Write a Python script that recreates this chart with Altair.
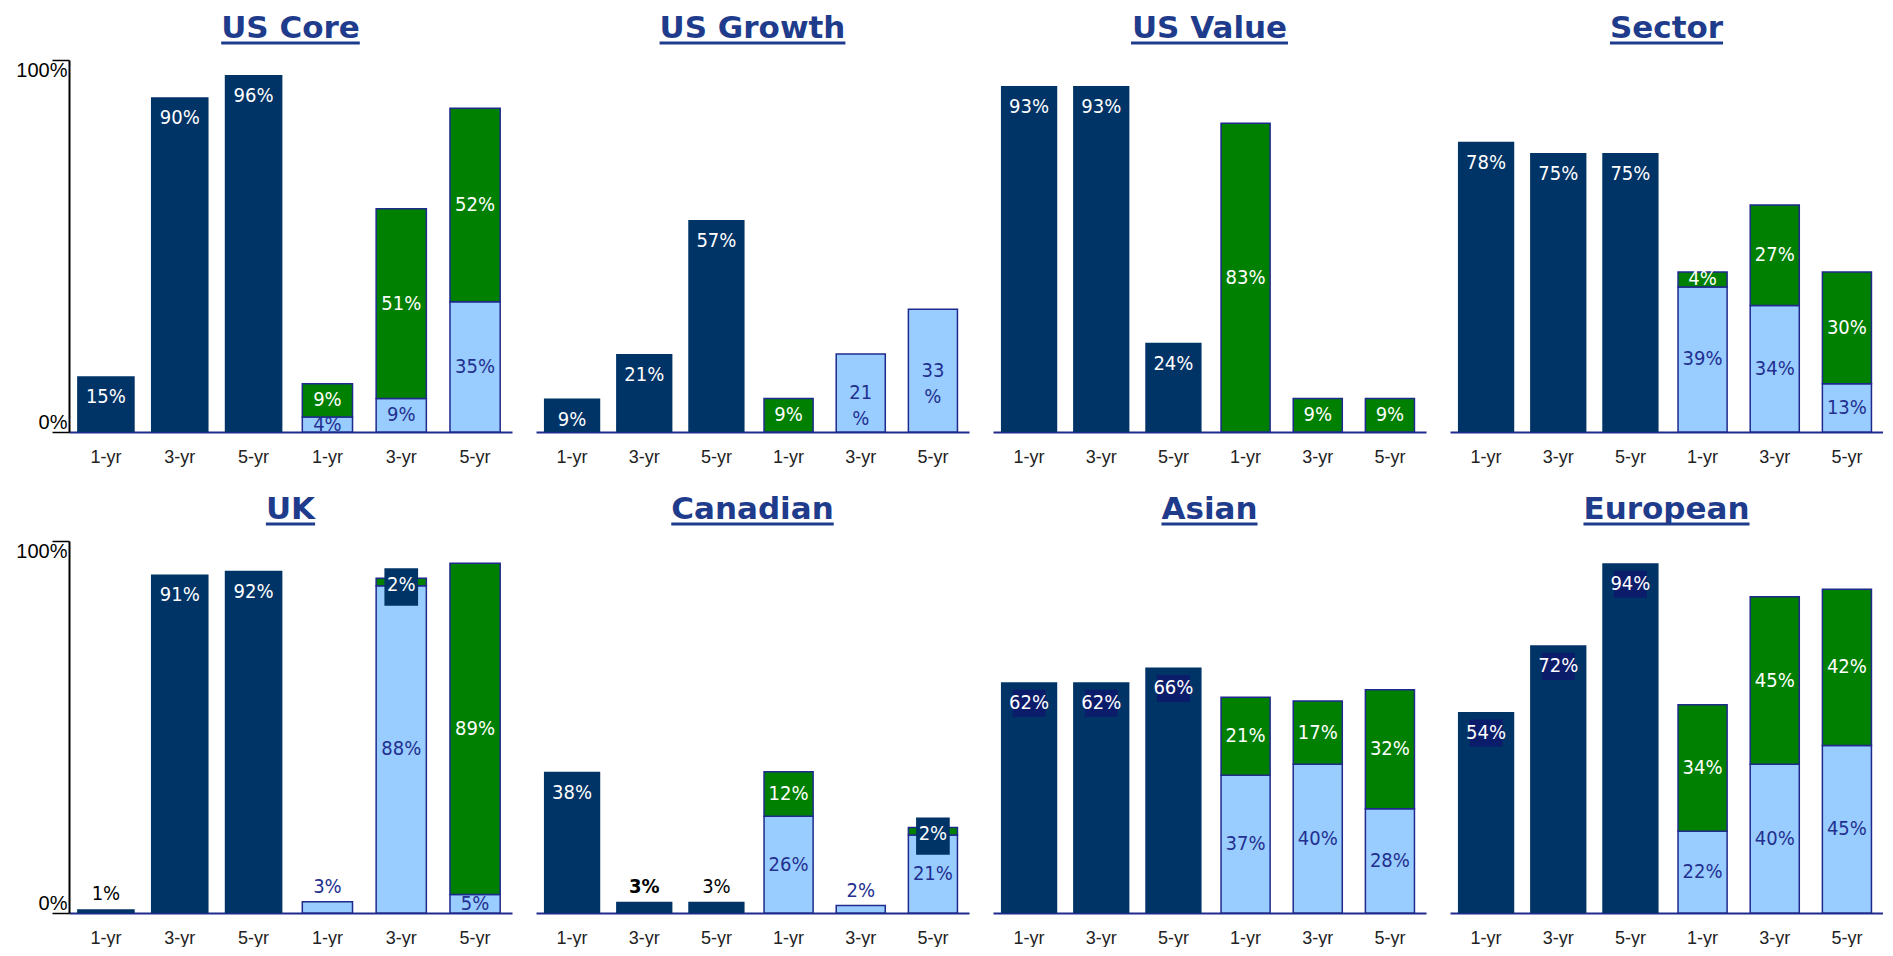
import altair as alt
import pandas as pd

# ---------------- data ----------------
PANELS = ["US Core", "US Growth", "US Value", "Sector",
          "UK", "Canadian", "Asian", "European"]
PERIODS = ["1", "3", "5"]

NAVY_VALUES = [[15, 90, 96], [9, 21, 57], [93, 93, 24], [78, 75, 75],
               [1, 91, 92], [38, 3, 3], [62, 62, 66], [54, 72, 94]]
LIGHT_VALUES = [[4, 9, 35], [0, 21, 33], [0, 0, 0], [39, 34, 13],
                [3, 88, 5], [26, 2, 21], [37, 40, 28], [22, 40, 45]]
GREEN_VALUES = [[9, 51, 52], [9, 0, 0], [83, 9, 9], [4, 27, 30],
                [0, 2, 89], [12, 0, 2], [21, 17, 32], [34, 45, 42]]

WRAPPED_LABEL_PANELS = ["US Growth"]
BOXED_LABEL_PANELS = ["Asian", "European"]
BOLD_LABELS = [("Canadian", "L3")]

# ---------------- style ----------------
NAVY = "#003366"
LIGHT = "#99CCFF"
GREEN = "#008000"
EDGE = "#1F2A8C"
TITLE_C = "#1F3C8C"
LIGHT_TXT = "#22308F"
LABEL_BOX = "#0B1C6B"
LABEL_FONT = "Liberation Sans Narrow, DejaVu Sans Condensed, Liberation Sans, sans-serif"
AXIS_FONT = "Liberation Sans"
TITLE_FONT = "DejaVu Sans"
TITLE_SIZE = 31

BOLD_W = {" ": 0.348, "A": 0.774, "C": 0.734, "E": 0.683, "G": 0.821, "K": 0.775,
          "S": 0.720, "U": 0.812, "V": 0.774, "a": 0.675, "c": 0.593, "d": 0.716,
          "e": 0.678, "h": 0.712, "i": 0.343, "l": 0.343, "n": 0.712, "o": 0.687,
          "p": 0.716, "r": 0.493, "s": 0.595, "t": 0.478, "u": 0.712, "w": 0.924}


def text_width(s, size):
    return sum(BOLD_W.get(c, 0.65) for c in s) * size


CATS = ["L" + p for p in PERIODS] + ["R" + p for p in PERIODS]
H = 372


def make_panel(i, first_col):
    name = PANELS[i]
    plot_w = 443 if first_col else 433
    rows = []
    for j, per in enumerate(PERIODS):
        v = NAVY_VALUES[i][j]
        big = v >= 5
        rows.append(dict(cat="L" + per, y0=0, y1=v, fill=NAVY, label=f"{v}%",
                         pos="top" if big else "above", ly=v,
                         lc="white" if big else "black",
                         box=LABEL_BOX if (name in BOXED_LABEL_PANELS and big) else "",
                         bold=(name, "L" + per) in BOLD_LABELS))
        lv = LIGHT_VALUES[i][j]
        gv = GREEN_VALUES[i][j]
        if lv > 0:
            above = gv == 0 and lv < 5
            lab = f"{lv}\n%" if name in WRAPPED_LABEL_PANELS else f"{lv}%"
            rows.append(dict(cat="R" + per, y0=0, y1=lv, fill=LIGHT, label=lab,
                             pos="above" if above else "center",
                             ly=lv if above else lv / 2, lc=LIGHT_TXT, box="",
                             bold=False))
        if gv > 0:
            boxed = gv <= 2
            rows.append(dict(cat="R" + per, y0=lv, y1=lv + gv, fill=GREEN,
                             label=f"{gv}%", pos="boxed" if boxed else "center",
                             ly=lv + gv / 2, lc="white", box=NAVY if boxed else "",
                             bold=False))
    df = pd.DataFrame(rows)

    x_axis = alt.Axis(title=None, labelExpr="substring(datum.value, 1) + '-yr'",
                      labelAngle=0, ticks=False, domain=True, domainColor=EDGE,
                      domainWidth=2, labelFont=AXIS_FONT, labelFontSize=18,
                      labelColor="#222222", labelPadding=16, grid=False)
    if first_col:
        y_axis = alt.Axis(title=None, values=[0, 100], labelExpr="datum.value + '%'",
                          tickSize=17, tickColor="black", tickWidth=1.5,
                          domainColor="black", domainWidth=2, labelPadding=-15,
                          labelFlush=True, labelFontSize=20, labelFont=AXIS_FONT,
                          labelColor="black", grid=False)
    else:
        y_axis = None

    def xe():
        return alt.X("cat:N", sort=CATS,
                     scale=alt.Scale(domain=CATS, paddingInner=0, paddingOuter=0),
                     axis=x_axis)

    def ye(field):
        return alt.Y(f"{field}:Q", scale=alt.Scale(domain=[0, 100], nice=False),
                     axis=y_axis)

    layers = []
    navy_df = df[df.fill == NAVY]
    stack_df = df[df.fill != NAVY]
    layers.append(alt.Chart(navy_df).mark_bar(color=NAVY, width={"band": 0.78})
                  .encode(x=xe(), y=ye("y1"), y2="y0"))
    if len(stack_df):
        layers.append(alt.Chart(stack_df)
                      .mark_bar(stroke=EDGE, strokeWidth=1.5, width={"band": 0.68})
                      .encode(x=xe(), y=ye("y1"), y2="y0",
                              fill=alt.Fill("fill:N", scale=None)))
    box_top = df[(df.box != "") & (df.pos == "top")]
    if len(box_top):
        layers.append(alt.Chart(box_top)
                      .mark_point(shape="M-1.22,-1L1.22,-1L1.22,1L-1.22,1Z", size=729,
                                  filled=True, opacity=1, strokeWidth=0, yOffset=21)
                      .encode(x=xe(), y=ye("ly"), color=alt.Color("box:N", scale=None)))
    box_g = df[(df.box != "") & (df.pos == "boxed")]
    if len(box_g):
        layers.append(alt.Chart(box_g)
                      .mark_point(shape="M-0.9,-1L0.9,-1L0.9,1L-0.9,1Z", size=1400,
                                  filled=True, opacity=1, strokeWidth=0, yOffset=5)
                      .encode(x=xe(), y=ye("ly"), color=alt.Color("box:N", scale=None)))
    for pos, dy in [("top", 21), ("above", -15), ("center", 0), ("boxed", 3)]:
        for bold in (False, True):
            sub = df[(df.pos == pos) & (df.bold == bold)]
            if not len(sub):
                continue
            layers.append(alt.Chart(sub)
                          .mark_text(font=LABEL_FONT, fontSize=20, baseline="middle",
                                     align="center", dy=dy, lineBreak="\n",
                                     lineHeight=26,
                                     fontWeight="bold" if bold else "normal")
                          .encode(x=xe(), y=ye("ly"), text="label:N",
                                  color=alt.Color("lc:N", scale=None)))
    tdf = pd.DataFrame({"t": [name]})
    tw = text_width(name, TITLE_SIZE)
    layers.append(alt.Chart(tdf)
                  .mark_text(font=TITLE_FONT, fontWeight="bold", fontSize=TITLE_SIZE,
                             color=TITLE_C, align="center", baseline="alphabetic")
                  .encode(text="t:N", x=alt.value(plot_w / 2), y=alt.value(-22)))
    layers.append(alt.Chart(tdf).mark_rule(color=TITLE_C, strokeWidth=3)
                  .encode(x=alt.value(plot_w / 2 - tw / 2),
                          x2=alt.value(plot_w / 2 + tw / 2),
                          y=alt.value(-17)))
    return alt.layer(*layers).properties(width=plot_w, height=H)


panels = [make_panel(i, i % 4 == 0) for i in range(8)]

chart = (alt.concat(*panels, columns=4, spacing={"row": 109, "column": 24},
                    bounds="flush")
         .configure_view(stroke=None)
         .properties(background="white",
                     padding={"left": 7, "top": 5, "right": 0, "bottom": 0}))

chart.save("out.html", embed_options={"renderer": "svg", "actions": False})
